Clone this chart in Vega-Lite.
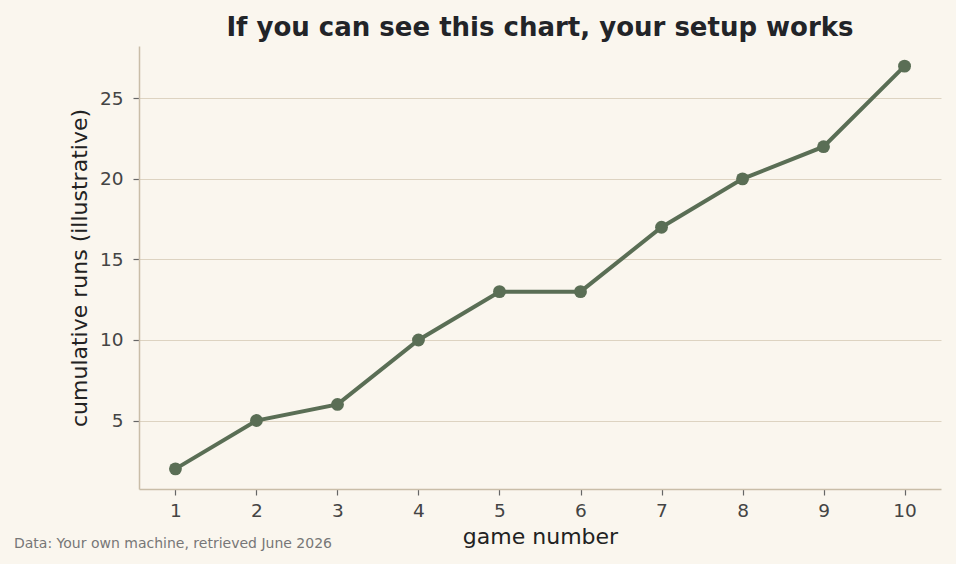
{
  "$schema": "https://vega.github.io/schema/vega-lite/v6.json",
  "autosize": {"type": "none"},
  "width": 802,
  "height": 443,
  "padding": {"left": 139, "top": 46, "right": 15, "bottom": 75},
  "background": "#faf6ee",
  "config": {
    "font": "DejaVu Sans",
    "view": {"stroke": null},
    "axis": {
      "domainColor": "#c9bda8",
      "domainWidth": 1.5,
      "tickColor": "#666666",
      "tickSize": 6,
      "tickWidth": 1.2,
      "labelColor": "#444444",
      "labelFont": "DejaVu Sans",
      "labelFontSize": 18.5,
      "titleFont": "DejaVu Sans",
      "titleFontSize": 22,
      "titleFontWeight": "normal",
      "titleColor": "#222222",
      "gridColor": "#ddd3c1",
      "gridWidth": 1.2
    }
  },
  "title": {
    "text": "If you can see this chart, your setup works",
    "font": "DejaVu Sans",
    "fontSize": 26,
    "fontWeight": "bold",
    "color": "#222428",
    "anchor": "middle",
    "offset": 5
  },
  "layer": [
    {
      "data": {"values": [
        {"game": 1, "runs": 2},
        {"game": 2, "runs": 5},
        {"game": 3, "runs": 6},
        {"game": 4, "runs": 10},
        {"game": 5, "runs": 13},
        {"game": 6, "runs": 13},
        {"game": 7, "runs": 17},
        {"game": 8, "runs": 20},
        {"game": 9, "runs": 22},
        {"game": 10, "runs": 27}
      ]},
      "mark": {"type": "line", "color": "#5a6e55", "strokeWidth": 4, "point": {"filled": true, "size": 165, "color": "#5a6e55", "opacity": 1}},
      "encoding": {
        "x": {
          "field": "game", "type": "quantitative",
          "scale": {"domain": [0.55, 10.45], "nice": false, "zero": false},
          "axis": {"values": [1,2,3,4,5,6,7,8,9,10], "grid": false, "title": "game number", "labelPadding": 6, "titlePadding": 7}
        },
        "y": {
          "field": "runs", "type": "quantitative",
          "scale": {"domain": [0.75, 28.25], "nice": false, "zero": false},
          "axis": {"values": [5,10,15,20,25], "grid": true, "title": "cumulative runs (illustrative)", "labelPadding": 10, "titlePadding": 8}
        }
      }
    },
    {
      "data": {"values": [{"caption": "Data: Your own machine, retrieved June 2026"}]},
      "mark": {"type": "text", "align": "left", "baseline": "alphabetic", "fontSize": 14, "color": "#777777", "font": "DejaVu Sans"},
      "encoding": {
        "text": {"field": "caption"},
        "x": {"value": -125},
        "y": {"value": 502}
      }
    }
  ]
}
